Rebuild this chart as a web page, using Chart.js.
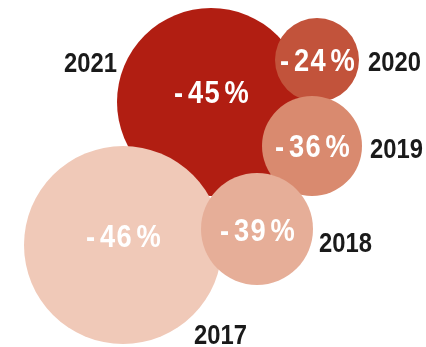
<!DOCTYPE html>
<html>
<head>
<meta charset="utf-8">
<script src="https://cdn.jsdelivr.net/npm/chart.js@4"></script>
<style>
  html, body { margin: 0; padding: 0; background: #fff; }
  #wrap { width: 426px; height: 347px; position: relative; }
</style>
</head>
<body>
<div id="wrap"><canvas id="bubbleChart"></canvas></div>
<script>
// data, in drawing order (back to front)
var years = ["2021", "2020", "2019", "2017", "2018"];
var changes = [-45, -24, -36, -46, -39];
var xPos = [211, 317, 312, 123, 257];
var yPos = [102, 60, 146, 245, 229];
var radius = [94, 42, 50, 99, 56];
var colors = ["#b11e12", "#c2533b", "#d98a6f", "#f0c9b8", "#e6ae98"];

// year label placement, relative to the bubble centre (baseline)
var yearLabelAt = [
    { dx: -94, dy: -30, align: "right" },
    { dx: 51, dy: 11, align: "left" },
    { dx: 58, dy: 12, align: "left" },
    { dx: 71, dy: 99, align: "left" },
    { dx: 62, dy: 23, align: "left" }
];
var pctBaselineDy = [1, 11, 11, 2, 12];

var W = 426, H = 347;
// bubble charts pad the chart area by the biggest radius
var pad = Math.max.apply(null, radius);

var points = [];
for (var i = 0; i < years.length; i++) {
    points.push({ x: xPos[i], y: yPos[i], r: radius[i] });
}

function drawText(ctx, txt, x, y, align, sx) {
    ctx.save();
    ctx.translate(x, y);
    ctx.scale(sx, 1);
    ctx.textAlign = align;
    ctx.fillText(txt, 0, 0);
    ctx.restore();
}

var labelPlugin = {
    id: "bubbleLabels",
    afterDatasetsDraw: function (chart) {
        var ctx = chart.ctx;
        var meta = chart.getDatasetMeta(0);
        ctx.save();
        ctx.textBaseline = "alphabetic";
        meta.data.forEach(function (el, i) {
            // percentage inside the bubble
            ctx.fillStyle = "#ffffff";
            ctx.font = "bold 31px 'Liberation Sans', Arial, sans-serif";
            ctx.letterSpacing = "1.5px";
            drawText(ctx, "-\u200A" + Math.abs(changes[i]) + "\u200A%", el.x + 1, el.y + pctBaselineDy[i], "center", 0.88);
            // year beside it
            var p = yearLabelAt[i];
            ctx.fillStyle = "#1a1a1a";
            ctx.font = "bold 28px 'Liberation Sans', Arial, sans-serif";
            ctx.letterSpacing = "0px";
            drawText(ctx, years[i], el.x + p.dx, el.y + p.dy, p.align, 0.85);
        });
        ctx.restore();
    }
};

var ctx = document.getElementById("bubbleChart").getContext("2d");
var chart = new Chart(ctx, {
    type: "bubble",
    data: {
        labels: years,
        datasets: [{
            data: points,
            backgroundColor: colors,
            borderWidth: 0,
            hoverBorderWidth: 0,
            clip: false
        }]
    },
    options: {
        responsive: true,
        maintainAspectRatio: false,
        animation: false,
        layout: { padding: 0 },
        plugins: {
            legend: { display: false },
            tooltip: { enabled: false }
        },
        scales: {
            x: { type: "linear", min: pad, max: W - pad, display: false },
            y: { type: "linear", min: pad, max: H - pad, reverse: true, display: false }
        }
    },
    plugins: [labelPlugin]
});
</script>
</body>
</html>
